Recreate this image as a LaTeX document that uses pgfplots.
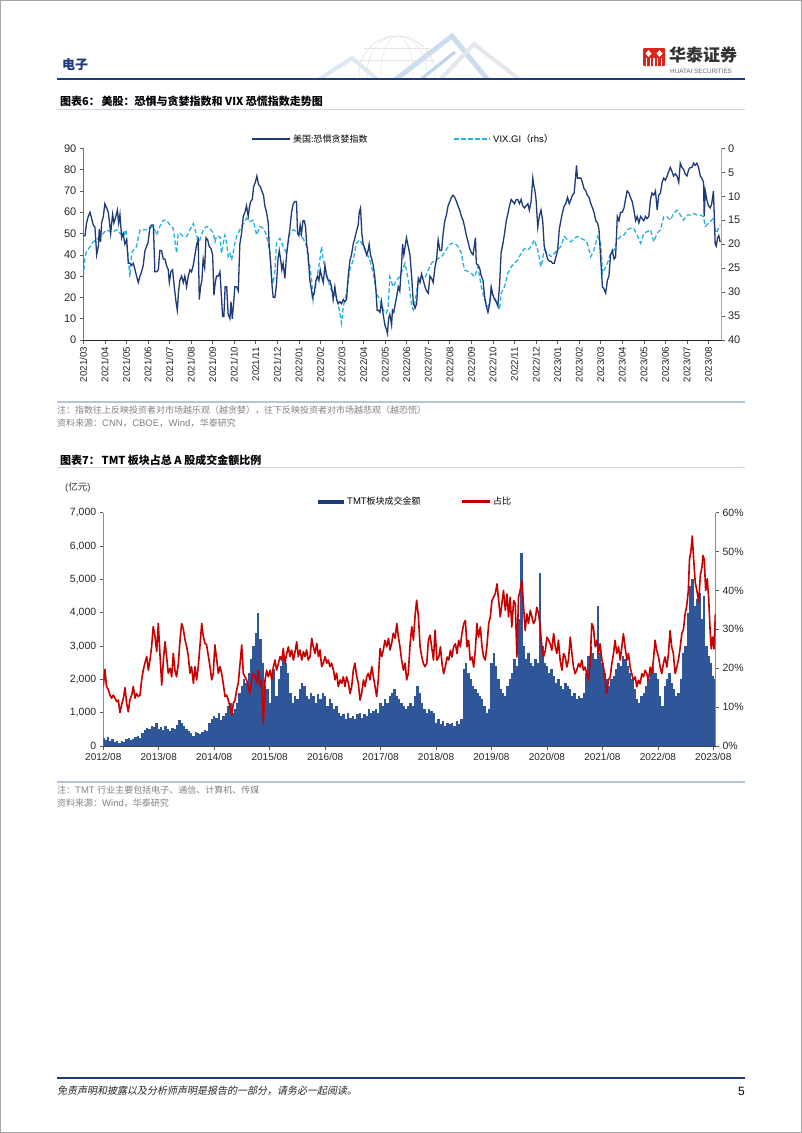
\documentclass[border=0pt]{standalone}
\usepackage{fontspec}
\setmainfont{Liberation Sans}
\newfontfamily\cjk{Noto Sans CJK SC}
\newfontfamily\cjkit{Noto Sans CJK SC}[FakeSlant=0.2]
\usepackage{pgfplots}
\usepackage{pgfplotstable}
\pgfplotsset{compat=1.18}

\definecolor{navy}{RGB}{30,58,122}
\definecolor{vixblue}{RGB}{38,176,228}
\definecolor{barblue}{RGB}{46,86,152}
\definecolor{tmtred}{RGB}{200,0,0}
\definecolor{notegray}{RGB}{130,130,130}
\definecolor{rulegray}{RGB}{182,196,216}
\definecolor{logored}{RGB}{218,37,29}
\definecolor{decoA}{RGB}{222,232,244}
\definecolor{decoB}{RGB}{205,220,238}
\definecolor{decoC}{RGB}{228,232,238}
\definecolor{decoD}{RGB}{190,212,236}
\newcommand{\fs}[1]{\fontsize{#1}{#1}\selectfont}

% fear & greed index (month index from 2021/03, value)
\pgfplotstableread{
m v
0.00 49
0.08 49
0.15 55
0.23 58
0.31 60
0.39 57
0.46 54
0.54 53
0.59 45
0.62 40
0.70 44
0.74 52
0.80 46
0.85 55
0.93 58
1.00 64
1.08 62
1.16 60
1.24 53
1.27 50
1.36 59
1.42 55
1.51 58
1.58 61
1.64 55
1.70 59
1.78 48
1.85 50
1.93 45
2.01 47
2.09 36
2.16 36
2.24 35
2.32 36
2.40 33
2.47 30
2.55 27
2.63 30
2.70 32
2.78 35
2.86 42
2.94 44
3.01 46
3.09 53
3.17 54
3.25 54
3.32 32
3.40 32
3.48 33
3.55 42
3.63 42
3.71 38
3.79 38
3.86 35
3.94 33
3.99 27
4.06 32
4.14 33
4.22 25
4.30 18
4.36 14
4.42 23
4.48 28
4.56 30
4.64 27
4.71 30
4.79 25
4.87 30
4.95 33
5.02 32
5.10 35
5.18 40
5.26 45
5.33 47
5.38 19
5.44 25
5.50 28
5.56 38
5.63 34
5.69 48
5.77 47
5.84 44
5.92 43
6.00 40
6.06 21
6.12 27
6.18 30
6.26 30
6.34 32
6.41 20
6.46 11
6.52 11
6.58 25
6.65 25
6.72 12
6.80 10
6.85 18
6.91 10
6.97 17
7.03 25
7.11 25
7.19 23
7.26 45
7.34 50
7.42 58
7.50 60
7.57 63
7.65 58
7.70 62
7.76 65
7.84 66
7.90 72
7.98 74
8.05 77
8.13 73
8.21 72
8.28 70
8.36 68
8.42 63
8.50 60
8.58 55
8.62 45
8.69 36
8.76 25
8.81 20
8.89 20
8.96 26
9.03 38
9.09 42
9.15 38
9.21 33
9.27 36
9.35 29
9.43 40
9.51 47
9.58 52
9.66 60
9.74 64
9.81 65
9.89 65
9.94 50
10.00 49
10.06 54
10.12 50
10.19 56
10.25 56
10.31 53
10.36 45
10.43 40
10.51 28
10.59 23
10.63 20
10.71 22
10.79 28
10.87 30
10.93 28
10.99 33
11.05 30
11.13 27
11.21 35
11.28 30
11.36 28
11.44 28
11.51 25
11.56 22
11.59 19
11.67 25
11.75 19
11.82 17
11.90 18
11.98 17
12.06 19
12.13 18
12.21 19
12.29 30
12.36 37
12.44 40
12.52 45
12.60 48
12.67 51
12.75 54
12.80 60
12.86 62
12.92 50
12.98 45
13.06 43
13.14 40
13.21 42
13.26 45
13.32 40
13.38 38
13.45 35
13.52 30
13.57 24
13.63 14
13.69 14
13.76 13
13.83 18
13.91 12
13.99 7
14.06 5
14.11 3
14.16 10
14.22 12
14.30 7
14.34 14
14.40 13
14.47 17
14.53 20
14.61 25
14.68 23
14.76 35
14.81 45
14.87 40
14.93 44
14.99 48
15.15 40
15.23 30
15.31 17
15.39 15
15.46 17
15.54 29
15.62 27
15.69 31
15.77 28
15.85 25
15.92 23
16.00 22
16.08 30
16.15 29
16.23 27
16.31 34
16.39 38
16.46 47
16.54 42
16.62 42
16.69 50
16.77 56
16.85 59
16.92 63
17.00 65
17.08 67
17.15 68
17.23 67
17.31 65
17.38 63
17.46 61
17.54 58
17.62 56
17.69 53
17.77 49
17.85 46
17.92 43
18.00 41
18.08 40
18.19 48
18.23 36
18.31 35
18.38 34
18.46 30
18.54 28
18.62 20
18.69 16
18.77 13
18.85 17
18.92 25
19.00 21
19.08 19
19.15 18
19.23 16
19.31 26
19.38 41
19.46 45
19.54 50
19.62 56
19.69 59
19.77 63
19.85 66
19.92 65
20.00 64
20.08 66
20.15 66
20.23 64
20.31 66
20.38 63
20.46 62
20.54 63
20.62 64
20.69 61
20.77 65
20.85 76
20.89 73
20.95 70
21.00 66
21.08 53
21.15 58
21.23 61
21.31 56
21.38 44
21.46 41
21.54 38
21.62 37
21.69 37
21.77 36
21.85 36
21.92 39
22.00 42
22.08 52
22.15 56
22.23 60
22.31 63
22.38 64
22.46 67
22.54 64
22.62 66
22.69 68
22.77 69
22.88 82
22.92 76
23.00 76
23.08 76
23.15 74
23.23 71
23.31 70
23.38 68
23.46 67
23.54 64
23.62 62
23.69 60
23.77 56
23.85 55
23.92 52
24.00 38
24.08 25
24.15 24
24.23 22
24.31 28
24.38 30
24.46 40
24.54 42
24.62 38
24.69 39
24.77 58
24.85 56
24.92 60
25.00 60
25.08 62
25.15 66
25.23 70
25.31 69
25.38 67
25.46 65
25.54 61
25.62 56
25.69 58
25.77 55
25.85 58
25.92 57
26.00 56
26.08 58
26.15 57
26.23 58
26.31 66
26.38 69
26.46 68
26.54 70
26.62 61
26.69 68
26.77 69
26.85 74
26.92 76
27.00 75
27.08 77
27.15 79
27.23 81
27.31 79
27.38 77
27.46 78
27.54 77
27.62 74
27.69 83
27.77 81
27.85 80
27.92 78
28.00 77
28.08 80
28.15 81
28.23 81
28.31 83
28.38 82
28.46 83
28.54 81
28.62 77
28.69 76
28.77 74
28.80 58
28.85 70
28.92 66
29.00 63
29.08 62
29.15 64
29.23 70
29.31 45
29.36 44
29.42 48
29.48 49
29.54 46
}\fgtable

% VIX (month index, value), shown on the reversed right axis
\pgfplotstableread{
m v
0.00 26.8
0.08 22.6
0.15 21.6
0.31 20.5
0.46 19.5
0.62 19.1
0.77 18.4
0.93 17.7
1.08 17.0
1.24 17.4
1.39 17.4
1.55 17.0
1.70 17.7
1.85 18.4
1.98 17.0
2.09 23.3
2.16 26.8
2.24 21.9
2.32 21.2
2.47 20.5
2.63 17.0
2.78 17.0
2.94 17.0
3.09 16.7
3.25 16.3
3.40 18.1
3.55 16.3
3.71 15.0
3.86 15.0
4.02 16.0
4.17 16.7
4.33 21.9
4.40 17.7
4.48 17.7
4.64 18.4
4.79 18.4
4.95 17.0
5.10 15.7
5.26 18.1
5.33 20.2
5.41 19.1
5.56 17.0
5.72 16.3
5.87 16.7
6.03 17.7
6.11 19.5
6.18 18.4
6.34 18.4
6.41 21.9
6.49 19.8
6.57 18.1
6.65 19.8
6.72 22.6
6.80 21.9
6.88 23.3
6.96 21.6
7.03 19.8
7.11 18.4
7.26 17.0
7.42 15.7
7.57 14.6
7.73 15.3
7.88 15.0
8.04 18.1
8.19 16.3
8.35 16.7
8.50 18.1
8.66 21.9
8.73 26.8
8.81 28.2
8.89 25.4
8.96 19.8
9.12 18.8
9.27 20.5
9.43 21.9
9.58 17.7
9.74 17.0
9.89 17.4
10.05 17.7
10.20 18.8
10.36 20.5
10.43 23.3
10.51 24.7
10.59 27.5
10.66 31.7
10.74 29.6
10.82 27.5
10.97 23.3
11.05 20.5
11.13 23.3
11.28 26.1
11.44 28.9
11.59 30.3
11.75 31.0
11.90 34.4
11.98 36.5
12.06 33.0
12.21 30.3
12.36 25.4
12.52 23.3
12.67 19.8
12.83 19.1
12.98 20.5
13.14 21.9
13.29 23.3
13.45 26.1
13.60 30.3
13.76 31.7
13.91 33.7
14.06 34.4
14.14 33.0
14.22 26.8
14.37 28.9
14.53 27.5
14.68 26.8
14.92 24.0
15.08 27.5
15.23 33.0
15.31 33.7
15.39 32.0
15.54 27.5
15.69 26.8
15.85 27.1
16.00 25.4
16.15 24.0
16.31 23.3
16.46 23.0
16.62 22.6
16.77 21.6
16.92 20.5
17.08 19.8
17.23 19.8
17.38 20.5
17.54 21.9
17.62 24.0
17.69 25.4
17.85 25.7
18.00 26.1
18.15 26.8
18.31 24.7
18.46 28.9
18.62 31.7
18.77 33.0
18.85 32.3
18.92 30.3
19.08 31.0
19.23 33.0
19.31 33.7
19.38 30.3
19.54 28.9
19.69 26.1
19.85 24.7
20.00 24.0
20.15 23.3
20.31 21.9
20.46 20.9
20.62 21.2
20.77 20.5
20.92 19.1
21.08 21.2
21.23 24.7
21.31 23.0
21.38 21.2
21.54 21.9
21.69 22.6
21.85 21.9
22.00 21.2
22.15 20.5
22.31 18.4
22.46 19.1
22.62 19.5
22.77 18.8
22.92 18.4
23.08 18.8
23.23 19.1
23.38 19.8
23.54 22.6
23.69 21.2
23.85 18.4
24.00 19.8
24.08 26.1
24.15 25.4
24.31 24.0
24.46 21.9
24.62 21.2
24.77 19.1
24.92 18.4
25.08 18.1
25.23 17.0
25.38 16.7
25.54 16.7
25.69 18.1
25.85 19.8
26.00 17.7
26.15 17.4
26.31 17.0
26.46 19.5
26.62 17.7
26.77 17.0
26.92 14.3
27.08 14.3
27.23 15.0
27.38 13.6
27.54 12.9
27.69 13.9
27.85 15.0
28.00 13.9
28.15 13.9
28.31 13.6
28.46 13.9
28.62 13.9
28.77 14.3
28.85 16.3
28.92 16.0
29.08 15.3
29.23 14.6
29.31 17.0
29.38 17.7
29.46 16.7
29.54 16.0
}\vixtable

% TMT turnover, 100m CNY (half-month index from 2012/08, value)
\pgfplotstableread[row sep=\\]{
k v \\
0 250 \\ 1 180 \\ 2 280 \\ 3 150 \\ 4 200 \\ 5 120 \\ 6 160 \\
7 100 \\ 8 150 \\ 9 120 \\ 10 200 \\ 11 250 \\ 12 180 \\ 13 220 \\ 14 260 \\
15 300 \\ 16 250 \\
17 400 \\ 18 480 \\ 19 550 \\ 20 500 \\ 21 600 \\ 22 580 \\ 23 680 \\ 24 520 \\
25 560 \\ 26 480 \\ 27 600 \\ 28 520 \\ 29 450 \\ 30 540 \\ 31 500 \\ 32 620 \\ 33 780 \\
34 700 \\ 35 600 \\ 36 500 \\ 37 450 \\ 38 400 \\
39 300 \\ 40 430 \\ 41 380 \\ 42 350 \\ 43 420 \\ 44 480 \\ 45 440 \\
46 700 \\ 47 800 \\ 48 900 \\ 49 850 \\ 50 1000 \\ 51 780 \\ 52 900 \\
53 1000 \\ 54 1200 \\ 55 1300 \\ 56 1000 \\ 57 1100 \\
58 1300 \\ 59 1600 \\ 60 1800 \\ 61 2000 \\ 62 1900 \\
63 2200 \\ 64 2600 \\ 65 3000 \\ 66 3400 \\
67 4000 \\ 68 3200 \\
69 2500 \\ 70 1800 \\ 71 1700 \\ 72 1300 \\
73 2100 \\ 74 2300 \\ 75 1500 \\
76 2000 \\ 77 2400 \\ 78 2700 \\ 79 2500 \\ 80 2200 \\
81 1600 \\ 82 1300 \\ 83 1500 \\ 84 1400 \\
85 1700 \\ 86 1900 \\ 87 1800 \\ 88 1500 \\
89 1400 \\ 90 1600 \\ 91 1500 \\ 92 1300 \\ 93 1550 \\ 94 1400 \\ 95 1600 \\
96 1500 \\ 97 1200 \\ 98 1400 \\ 99 1300 \\ 100 1100 \\ 101 1200 \\ 102 1000 \\
103 900 \\ 104 950 \\ 105 800 \\ 106 1000 \\ 107 850 \\ 108 900 \\ 109 800 \\ 110 950 \\
111 1000 \\ 112 850 \\ 113 950 \\ 114 900 \\ 115 1100 \\ 116 1000 \\ 117 1050 \\
118 1100 \\ 119 1000 \\ 120 1300 \\ 121 1200 \\ 122 1400 \\ 123 1300 \\ 124 1500 \\
125 1600 \\ 126 1700 \\ 127 1500 \\ 128 1400 \\ 129 1300 \\ 130 1200 \\
131 1100 \\ 132 1200 \\ 133 1300 \\ 134 1200 \\ 135 1500 \\
136 1800 \\ 137 1600 \\ 138 1300 \\ 139 1100 \\ 140 1000 \\ 141 1100 \\ 142 1050 \\ 143 1000 \\
144 700 \\ 145 800 \\ 146 650 \\ 147 750 \\ 148 600 \\ 149 700 \\ 150 650 \\
151 700 \\ 152 600 \\ 153 750 \\ 154 650 \\ 155 800 \\
156 2300 \\ 157 2500 \\ 158 2200 \\
159 2000 \\ 160 1800 \\ 161 1700 \\ 162 1600 \\ 163 1500 \\ 164 1400 \\
165 1200 \\ 166 1000 \\ 167 1100 \\
168 2500 \\ 169 2800 \\ 170 2400 \\ 171 2000 \\
172 1700 \\ 173 1600 \\ 174 1500 \\ 175 1800 \\
176 2000 \\ 177 2200 \\ 178 2600 \\ 179 2400 \\
180 3800 \\ 181 5800 \\ 182 3000 \\
183 2600 \\ 184 2800 \\ 185 2500 \\ 186 2400 \\ 187 2600 \\ 188 2500 \\
189 5200 \\ 190 3000 \\
191 2500 \\ 192 2400 \\ 193 2200 \\ 194 2300 \\ 195 2100 \\
196 1900 \\ 197 2000 \\ 198 1800 \\ 199 1700 \\ 200 1900 \\ 201 1800 \\ 202 1700 \\
203 1500 \\ 204 1600 \\ 205 1400 \\ 206 1500 \\ 207 1450 \\ 208 1600 \\
209 2200 \\ 210 2700 \\ 211 3000 \\ 212 2800 \\ 213 2600 \\
214 4200 \\ 215 2800 \\
216 2500 \\ 217 2200 \\ 218 2000 \\ 219 1800 \\ 220 2000 \\
221 2100 \\ 222 2300 \\ 223 2500 \\ 224 2400 \\ 225 2700 \\
226 2600 \\ 227 2400 \\ 228 2200 \\ 229 2000 \\
230 1700 \\ 231 1400 \\ 232 1300 \\ 233 1500 \\ 234 1600 \\
235 1800 \\ 236 2000 \\ 237 2200 \\ 238 2400 \\ 239 2200 \\
240 2000 \\ 241 1500 \\ 242 1200 \\
243 1800 \\ 244 2000 \\ 245 2200 \\ 246 1900 \\ 247 1700 \\ 248 1500 \\
249 1600 \\ 250 2000 \\
251 2800 \\ 252 3000 \\
253 4000 \\ 254 4800 \\ 255 5000 \\ 256 4200 \\
257 4400 \\ 258 4600 \\ 259 3800 \\ 260 4500 \\
261 3000 \\ 262 2700 \\ 263 2500 \\
264 2100 \\ 265 2000 \\
}\bartable

% TMT share of A-share turnover, % (half-month index, value)
\pgfplotstableread[row sep=\\]{
k v \\
0.0 15.3 \\ 0.7 19.7 \\ 1.4 15.3 \\ 2.2 14.4 \\ 2.9 13.1 \\ 3.6 12.3 \\ 4.3 13.1 \\ 5.1 12.3 \\
5.8 11.4 \\ 6.5 11.8 \\ 7.2 8.6 \\ 7.9 10.5 \\ 8.7 12.3 \\ 9.4 15.0 \\ 10.1 11.0 \\ 10.8 8.8 \\
11.5 11.8 \\ 12.3 13.1 \\ 13.0 15.3 \\ 13.7 12.3 \\ 14.4 13.5 \\ 15.2 12.7 \\ 15.9 13.1 \\ 16.6 17.0 \\
17.3 19.5 \\ 18.0 21.3 \\ 18.8 23.0 \\ 19.5 19.5 \\ 20.2 22.1 \\ 20.9 25.5 \\ 21.6 30.7 \\ 22.4 28.1 \\
23.1 24.3 \\ 23.8 31.5 \\ 24.5 23.8 \\ 25.3 15.7 \\ 26.0 22.1 \\ 26.7 26.8 \\ 27.4 23.0 \\ 28.1 18.7 \\
28.9 20.0 \\ 29.6 17.8 \\ 30.3 23.8 \\ 31.0 19.5 \\ 31.7 17.8 \\ 32.5 21.3 \\ 33.2 27.2 \\ 33.9 31.5 \\
34.6 30.2 \\ 35.4 27.2 \\ 36.1 25.5 \\ 36.8 23.0 \\ 37.5 18.7 \\ 38.2 20.4 \\ 39.0 16.1 \\ 39.7 20.4 \\
40.4 17.0 \\ 41.1 20.4 \\ 41.8 25.5 \\ 42.6 31.5 \\ 43.3 28.1 \\ 44.0 26.4 \\ 44.7 26.0 \\ 45.5 23.0 \\
46.2 20.4 \\ 46.9 17.0 \\ 47.6 18.7 \\ 48.3 26.0 \\ 49.1 22.1 \\ 49.8 18.7 \\ 50.5 20.4 \\ 51.2 18.7 \\
51.9 16.1 \\ 52.7 12.7 \\ 53.4 13.1 \\ 54.1 11.8 \\ 54.8 10.1 \\ 55.6 8.0 \\ 56.3 11.0 \\ 57.0 11.8 \\
57.7 14.4 \\ 58.4 16.1 \\ 59.2 21.3 \\ 59.9 26.0 \\ 60.6 18.7 \\ 61.3 17.8 \\ 62.0 17.0 \\ 62.8 15.3 \\
63.5 13.5 \\ 64.2 17.0 \\ 64.9 18.7 \\ 65.7 17.8 \\ 66.4 16.1 \\ 67.1 19.5 \\ 67.8 15.3 \\ 68.5 17.0 \\
69.3 5.8 \\ 70.0 17.0 \\ 70.7 19.5 \\ 71.4 17.8 \\ 72.2 19.5 \\ 72.9 17.0 \\ 73.6 20.4 \\ 74.3 22.1 \\
75.0 19.5 \\ 75.8 21.3 \\ 76.5 23.0 \\ 77.2 22.1 \\ 77.9 25.1 \\ 78.6 21.3 \\ 79.4 23.8 \\ 80.1 25.5 \\
80.8 23.0 \\ 81.5 24.7 \\ 82.3 22.1 \\ 83.0 24.3 \\ 83.7 26.8 \\ 84.4 23.0 \\ 85.1 24.7 \\ 85.9 22.1 \\
86.6 24.3 \\ 87.3 23.0 \\ 88.0 24.7 \\ 88.7 22.1 \\ 89.5 23.0 \\ 90.2 27.7 \\ 90.9 25.5 \\ 91.6 23.8 \\
92.4 26.4 \\ 93.1 23.0 \\ 93.8 24.7 \\ 94.5 20.4 \\ 95.2 21.3 \\ 96.0 23.0 \\ 96.7 21.3 \\ 97.4 22.1 \\
98.1 20.4 \\ 98.8 21.3 \\ 99.6 19.5 \\ 100.3 17.0 \\ 101.0 18.7 \\ 101.7 15.3 \\ 102.5 17.0 \\ 103.2 16.1 \\
103.9 17.8 \\ 104.6 15.3 \\ 105.3 17.8 \\ 106.1 16.1 \\ 106.8 13.5 \\ 107.5 15.3 \\ 108.2 19.5 \\ 108.9 21.3 \\
109.7 17.8 \\ 110.4 16.1 \\ 111.1 11.8 \\ 111.8 13.5 \\ 112.6 17.0 \\ 113.3 15.3 \\ 114.0 17.8 \\ 114.7 18.7 \\
115.4 17.0 \\ 116.2 20.4 \\ 116.9 17.8 \\ 117.6 15.3 \\ 118.3 12.7 \\ 119.0 17.0 \\ 119.8 25.1 \\ 120.5 23.0 \\
121.2 24.7 \\ 121.9 27.2 \\ 122.7 25.5 \\ 123.4 27.7 \\ 124.1 24.7 \\ 124.8 26.4 \\ 125.5 29.0 \\ 126.3 27.7 \\
127.0 31.5 \\ 127.7 28.1 \\ 128.4 25.5 \\ 129.1 22.1 \\ 129.9 19.5 \\ 130.6 21.3 \\ 131.3 17.0 \\ 132.0 18.7 \\
132.8 26.4 \\ 133.5 30.7 \\ 134.2 27.2 \\ 134.9 33.2 \\ 135.6 37.5 \\ 136.4 33.2 \\ 137.1 25.5 \\ 137.8 23.0 \\
138.5 21.3 \\ 139.2 20.4 \\ 140.0 21.3 \\ 140.7 27.2 \\ 141.4 28.5 \\ 142.1 25.5 \\ 142.9 22.1 \\ 143.6 29.8 \\
144.4 22.1 \\ 145.2 22.9 \\ 145.9 25.5 \\ 146.6 21.2 \\ 147.3 18.6 \\ 148.0 20.3 \\ 148.8 22.9 \\ 149.5 22.1 \\
150.2 24.6 \\ 150.9 22.9 \\ 151.6 25.5 \\ 152.4 26.3 \\ 153.1 23.8 \\ 153.8 27.2 \\ 154.5 25.5 \\ 155.2 28.9 \\
156.0 31.5 \\ 156.7 32.3 \\ 157.4 25.5 \\ 158.1 27.2 \\ 158.8 22.1 \\ 159.6 22.9 \\ 160.3 20.3 \\ 161.0 24.6 \\
161.7 31.5 \\ 162.4 28.0 \\ 163.2 30.6 \\ 163.9 25.5 \\ 164.6 22.9 \\ 165.3 22.1 \\ 166.0 25.5 \\ 166.8 31.5 \\
167.5 33.2 \\ 168.2 37.4 \\ 168.9 38.3 \\ 169.6 39.1 \\ 170.4 41.7 \\ 171.1 37.4 \\ 171.8 33.2 \\ 172.5 36.6 \\
173.2 40.0 \\ 174.0 34.9 \\ 174.7 39.1 \\ 175.4 33.2 \\ 176.1 38.3 \\ 176.8 30.6 \\ 177.6 37.4 \\ 178.3 36.6 \\
179.0 22.9 \\ 179.7 38.3 \\ 180.4 40.0 \\ 181.2 42.6 \\ 181.9 35.7 \\ 182.6 29.7 \\ 183.3 34.0 \\ 184.0 31.5 \\
184.8 34.9 \\ 185.5 33.2 \\ 186.2 31.5 \\ 186.9 32.3 \\ 187.6 35.7 \\ 188.4 34.0 \\ 189.1 30.6 \\ 189.8 25.5 \\
190.5 22.9 \\ 191.3 24.6 \\ 192.0 28.0 \\ 192.7 27.2 \\ 193.4 26.3 \\ 194.1 24.6 \\ 194.9 28.9 \\ 195.6 25.5 \\
196.3 23.8 \\ 197.0 27.2 \\ 197.7 22.1 \\ 198.5 19.5 \\ 199.2 23.8 \\ 199.9 22.9 \\ 200.6 20.3 \\ 201.3 22.1 \\
202.1 28.0 \\ 202.8 23.8 \\ 203.5 20.3 \\ 204.2 18.6 \\ 204.9 19.5 \\ 205.7 21.2 \\ 206.4 20.3 \\ 207.1 22.1 \\
207.8 19.5 \\ 208.5 20.3 \\ 209.3 18.6 \\ 210.0 16.9 \\ 210.7 21.2 \\ 211.4 31.5 \\ 212.1 30.6 \\ 212.9 25.5 \\
213.6 27.2 \\ 214.3 23.8 \\ 215.0 26.3 \\ 215.8 22.1 \\ 216.5 20.3 \\ 217.2 16.9 \\ 217.9 13.5 \\ 218.6 16.9 \\
219.4 17.8 \\ 220.1 21.2 \\ 220.8 23.8 \\ 221.5 27.2 \\ 222.2 23.8 \\ 223.0 25.5 \\ 223.7 22.1 \\ 224.4 25.5 \\
225.1 28.9 \\ 225.8 25.5 \\ 226.6 22.1 \\ 227.3 23.8 \\ 228.0 20.3 \\ 228.7 18.6 \\ 229.4 16.9 \\ 230.2 17.8 \\
230.9 15.2 \\ 231.6 16.9 \\ 232.3 16.0 \\ 233.1 18.6 \\ 233.8 17.8 \\ 234.5 19.5 \\ 235.2 18.6 \\ 235.9 16.9 \\
236.7 20.3 \\ 237.4 18.6 \\ 238.1 22.1 \\ 238.8 27.2 \\ 239.5 24.6 \\ 240.3 22.9 \\ 241.0 20.3 \\ 241.7 18.6 \\
242.4 21.2 \\ 243.1 22.9 \\ 243.9 20.3 \\ 244.6 23.8 \\ 245.3 29.7 \\ 246.0 25.5 \\ 246.7 23.8 \\ 247.5 18.6 \\
248.2 20.3 \\ 248.9 22.1 \\ 249.6 25.0 \\ 250.4 29.0 \\ 251.1 30.0 \\ 251.8 34.0 \\ 252.5 36.0 \\ 253.2 40.0 \\
253.7 48.0 \\ 254.3 50.0 \\ 254.9 54.0 \\ 255.5 48.0 \\ 256.2 42.0 \\ 256.9 40.0 \\ 257.7 37.0 \\ 258.4 44.0 \\
259.1 46.0 \\ 259.5 49.0 \\ 260.1 48.0 \\ 260.7 40.0 \\ 261.4 43.0 \\ 262.0 38.0 \\ 262.6 30.0 \\ 263.1 25.0 \\
263.7 28.0 \\ 264.3 25.0 \\ 264.9 34.0 \\
}\sharetable

\pgfplotsset{
  pagebase/.style={
    scale only axis, anchor=south west,
    tick align=outside, major tick length=3.5pt,
    tick style={draw=black!65, line width=0.6pt},
    every tick label/.append style={text=black!85},
    /pgf/number format/assume math mode=true,
    scaled ticks=false,
  },
}

\begin{document}
\begin{tikzpicture}[x=1pt,y=-1pt]
\fill[white] (0,0) rectangle (802,1133);
\path[use as bounding box] (0,0) rectangle (802,1133);
\draw[black!35, line width=0.8pt] (0.5,0.5) rectangle (801.5,1132.5);

% ---------- header ----------
\begin{scope}
\clip (290,28) rectangle (540,78);
\draw[black!12, line width=0.6pt] (397,74) circle (38);
\draw[black!10, line width=0.5pt] (397,74) ellipse (16 and 38);
\draw[black!10, line width=0.5pt] (397,74) ellipse (30 and 38);
\draw[black!10, line width=0.5pt] (359,60) -- (435,60);
\draw[black!10, line width=0.5pt] (364,48) -- (430,48);
\draw[line width=4pt, decoA] (318,80) -- (352,58) -- (378,80);
\draw[line width=5pt, decoB] (395,80) -- (452,36) -- (488,80);
\draw[line width=4pt, decoC] (440,80) -- (474,44) -- (520,80);
\draw[line width=3pt, decoD] (420,80) -- (455,52);
\end{scope}
\node[anchor=west, inner sep=0, text=navy] at (62,65) {\cjk\bfseries\fs{13}电子};
\fill[logored, rounded corners=1pt] (643,48) rectangle (665,66);
\fill[white] (648.5,50) -- (651.5,53.5) -- (648.5,57) -- (645.5,53.5) -- cycle;
\fill[white] (659.5,50) -- (662.5,53.5) -- (659.5,57) -- (656.5,53.5) -- cycle;
\foreach \xx in {646.5,650.5,654,657.5,661.5} \fill[white] (\xx-0.7,58) rectangle (\xx+0.7,66);
\node[anchor=west, inner sep=0, text=black!80] at (669,55) {\cjk\bfseries\fs{17}华泰证券};
\node[anchor=west, inner sep=0, text=black!60] at (670,71.5) {\fs{6.3}HUATAI SECURITIES};
\draw[navy, line width=2pt] (57,79) -- (745,79);

% ---------- figure 6 ----------
\node[anchor=west, inner sep=0] at (60,101) {\cjk\bfseries\fs{11}图表6：\,美股：恐惧与贪婪指数和 VIX 恐慌指数走势图};
\draw[rulegray!70, line width=1pt] (57,109) -- (745,109);

\draw[navy, line width=1.8pt] (252,139) -- (290,139);
\node[anchor=west, inner sep=0] at (293,139) {\cjk\fs{9}美国:恐惧贪婪指数};
\draw[vixblue, line width=1.6pt, dash pattern=on 4.5pt off 2.5pt] (454,139) -- (490,139);
\node[anchor=west, inner sep=0] at (493,139) {\fs{9.5}VIX.GI{\cjk （}rhs{\cjk ）}};

\coordinate (a1) at (83.3,340);
\begin{axis}[pagebase, at={(a1)}, width=637.7pt, height=191.7pt,
  xmin=0, xmax=29.58, ymin=0, ymax=40, y dir=reverse,
  axis x line=none, axis y line*=right,
  y axis line style={draw=black!35, line width=0.8pt},
  ytick={0,5,...,40}, yticklabels={0,5,10,15,20,25,30,35,40},
  yticklabel style={font=\fs{11}}]
\addplot[vixblue, line width=1.3pt, dash pattern=on 4.5pt off 2.5pt, mark=none] table[x=m, y=v] {\vixtable};
\end{axis}
\begin{axis}[pagebase, at={(a1)}, width=637.7pt, height=191.7pt,
  xmin=0, xmax=29.58, ymin=0, ymax=90,
  axis x line*=bottom, axis y line*=left,
  x axis line style={draw=black!85, line width=0.8pt},
  y axis line style={draw=black!55, line width=0.8pt},
  xtick={0,...,29},
  xticklabels={2021/03,2021/04,2021/05,2021/06,2021/07,2021/08,2021/09,2021/10,2021/11,2021/12,
    2022/01,2022/02,2022/03,2022/04,2022/05,2022/06,2022/07,2022/08,2022/09,2022/10,2022/11,2022/12,
    2023/01,2023/02,2023/03,2023/04,2023/05,2023/06,2023/07,2023/08},
  xticklabel style={rotate=90, anchor=east, font=\fs{9.7}},
  ytick={0,10,...,90}, yticklabels={0,10,20,30,40,50,60,70,80,90},
  yticklabel style={font=\fs{11}}]
\addplot[navy, line width=1.3pt, mark=none] table[x=m, y=v] {\fgtable};
\end{axis}

\draw[rulegray, line width=1.3pt] (57,402) -- (745,402);
\node[anchor=west, inner sep=0, text=notegray] at (57,410) {\cjk\fs{9}注：指数往上反映投资者对市场越乐观（越贪婪），往下反映投资者对市场越悲观（越恐慌）};
\node[anchor=west, inner sep=0, text=notegray] at (57,423) {{\cjk\fs{9}资料来源：}\fs{9.5}CNN{\cjk，}CBOE{\cjk，}Wind{\cjk，\fs{9}华泰研究}};

% ---------- figure 7 ----------
\node[anchor=west, inner sep=0] at (60,460) {\cjk\bfseries\fs{11}图表7：\,TMT 板块占总 A 股成交金额比例};
\draw[rulegray!70, line width=1pt] (57,467) -- (745,467);
\node[anchor=west, inner sep=0, text=black!80] at (65,487) {\fs{9.5}({\cjk 亿元})};

\fill[navy] (318,499.5) rectangle (344,503.5);
\node[anchor=west, inner sep=0] at (347,501.5) {\fs{9.5}TMT{\cjk\fs{9}板块成交金额}};
\fill[tmtred] (462,500.4) rectangle (490,502.6);
\node[anchor=west, inner sep=0] at (493,501.5) {\cjk\fs{9}占比};

\coordinate (a2) at (103.3,746);
\begin{axis}[pagebase, at={(a2)}, width=612.3pt, height=233.3pt,
  xmin=0, xmax=265, ymin=0, ymax=7000,
  axis x line*=bottom, axis y line*=left,
  x axis line style={draw=black!75, line width=0.8pt},
  y axis line style={draw=black!45, line width=0.8pt},
  xtick={0,24,...,264},
  xticklabels={2012/08,2013/08,2014/08,2015/08,2016/08,2017/08,2018/08,2019/08,2020/08,2021/08,2022/08,2023/08},
  xticklabel style={font=\fs{10}},
  ytick={0,1000,...,7000}, yticklabels={0,{1,000},{2,000},{3,000},{4,000},{5,000},{6,000},{7,000}},
  yticklabel style={font=\fs{10.5}}]
\addplot[ycomb, barblue, line width=2.4pt, mark=none] table[x=k, y=v] {\bartable};
\end{axis}
\begin{axis}[pagebase, at={(a2)}, width=612.3pt, height=233.3pt,
  xmin=0, xmax=265, ymin=0, ymax=60,
  axis x line=none, axis y line*=right,
  y axis line style={draw=black!45, line width=0.8pt},
  ytick={0,10,...,60}, yticklabels={0\%,10\%,20\%,30\%,40\%,50\%,60\%},
  yticklabel style={font=\fs{10.5}}]
\addplot[tmtred, line width=1.6pt, mark=none, line join=round] table[x=k, y=v] {\sharetable};
\end{axis}

\draw[rulegray, line width=1.3pt] (57,782) -- (745,782);
\node[anchor=west, inner sep=0, text=notegray] at (57,790) {{\cjk\fs{9}注：}\fs{9.5}TMT {\cjk\fs{9}行业主要包括电子、通信、计算机、传媒}};
\node[anchor=west, inner sep=0, text=notegray] at (57,803) {{\cjk\fs{9}资料来源：}\fs{9.5}Wind{\cjk\fs{9}，华泰研究}};

% ---------- footer ----------
\draw[navy, line width=2pt] (57,1078) -- (745,1078);
\node[anchor=west, inner sep=0, text=black!85] at (57,1091) {\cjkit\fs{10}免责声明和披露以及分析师声明是报告的一部分，请务必一起阅读。};
\node[anchor=east, inner sep=0] at (745,1091) {\fs{12}5};
\end{tikzpicture}
\end{document}
